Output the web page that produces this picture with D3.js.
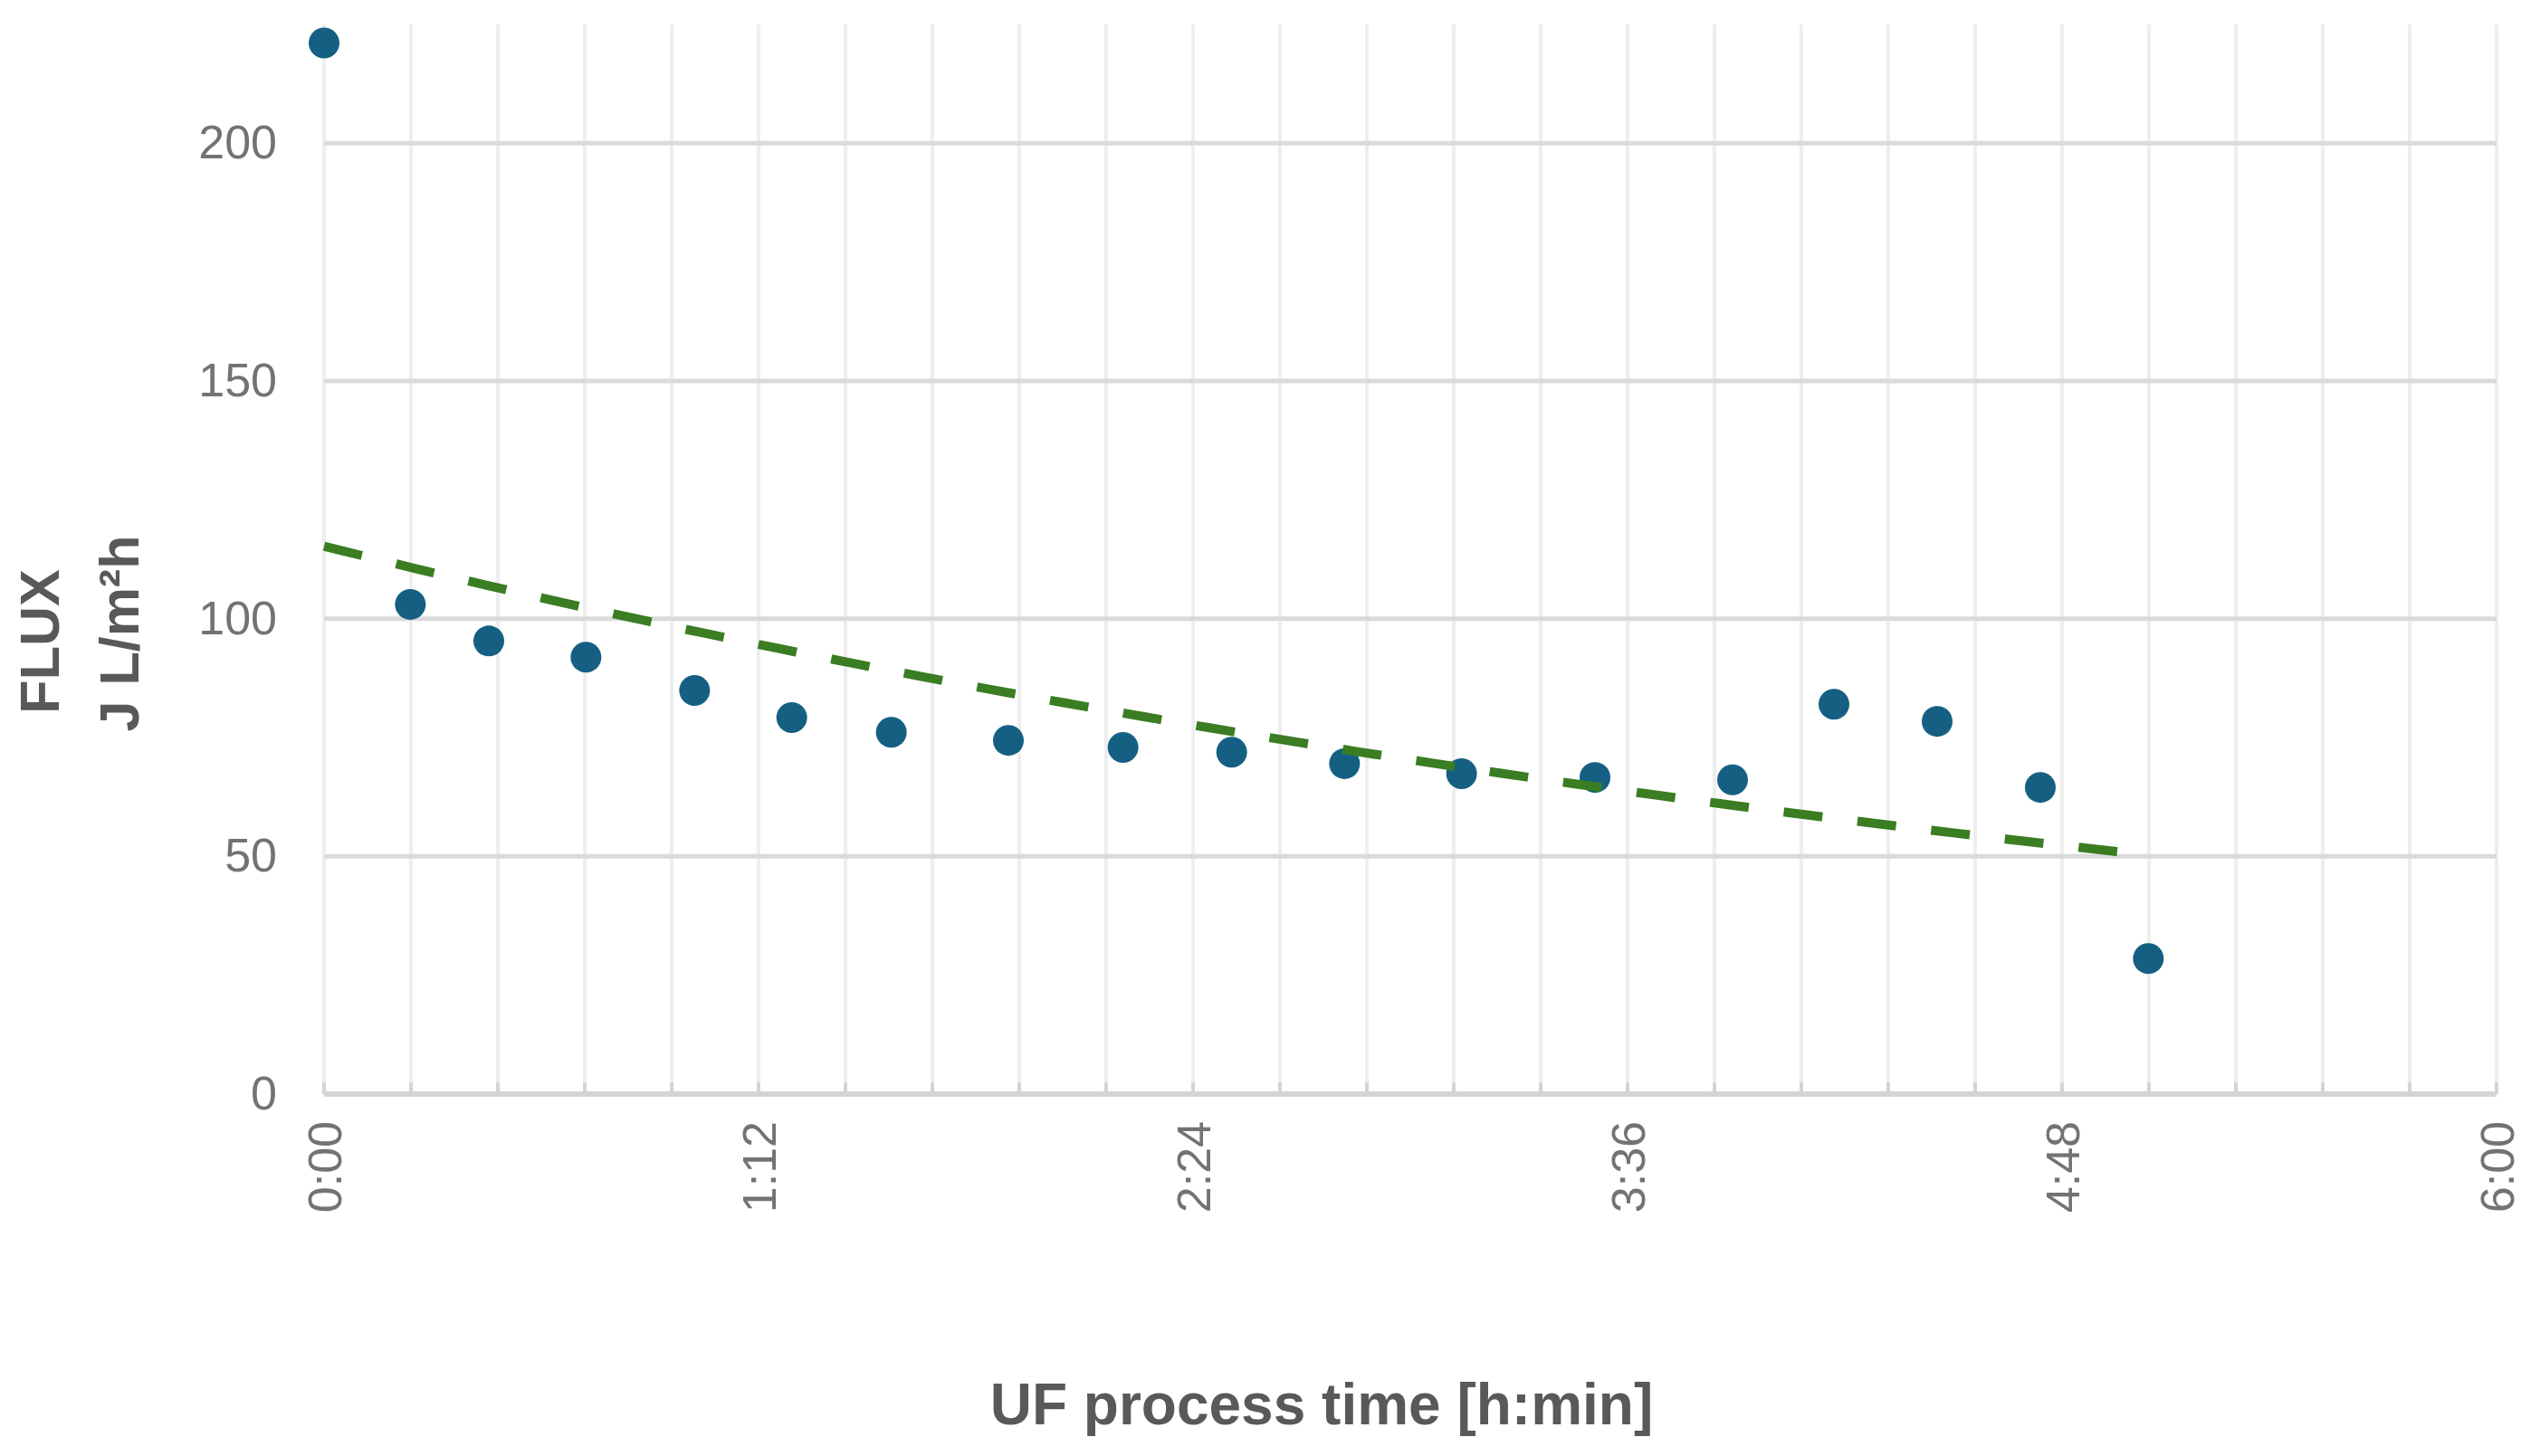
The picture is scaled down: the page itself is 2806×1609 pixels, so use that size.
<!DOCTYPE html>
<html>
<head>
<meta charset="utf-8">
<script src="https://cdn.jsdelivr.net/npm/d3@7"></script>
<style>
	html, body { margin: 0; padding: 0; background: #ffffff; }
	svg { display: block; font-family: "Liberation Sans", Arial, sans-serif; }
</style>
</head>
<body>
<svg id="chart"></svg>
<script>
// process time in minutes, flux in L/m²h
const times = [0, 14.3, 27.3, 43.4, 61.4, 77.5, 94.0, 113.4, 132.4, 150.4, 169.1, 188.5, 210.6, 233.4, 250.2, 267.3, 284.4, 302.3];
const flux = [221.1, 103.0, 95.3, 91.9, 84.9, 79.2, 76.1, 74.4, 72.9, 71.9, 69.5, 67.4, 66.6, 66.1, 82.0, 78.4, 64.5, 28.5];

const xTicks = [0, 72, 144, 216, 288, 360];
const yTicks = [0, 50, 100, 150, 200];
const xDomain = [0, 360];
const yDomain = [0, 225];

const xTitle = "UF process time [h:min]";
const yTitleLines = ["FLUX", "J L/m²h"];

const width = 2806;
const height = 1609;
const margin = { top: 27, right: 48, bottom: 400, left: 358 };

const svg = d3.select("#chart")
	.attr("width", width)
	.attr("height", height);

const x = d3.scaleLinear()
	.domain(xDomain)
	.range([margin.left, width - margin.right]);

const y = d3.scaleLinear()
	.domain(yDomain)
	.range([height - margin.bottom, margin.top]);

function hmm(m) {
	const h = Math.floor(m / 60);
	const mm = Math.round(m - h * 60);
	return `${h}:${String(mm).padStart(2, "0")}`;
}

// exponential trendline (least squares on ln y), as the spreadsheet does
function expFit(xs, ys) {
	const ln = ys.map((v) => Math.log(v));
	const mx = d3.mean(xs);
	const my = d3.mean(ln);
	const b = d3.sum(xs.map((t, i) => (t - mx) * (ln[ i ] - my))) /
		d3.sum(xs.map((t) => (t - mx) * (t - mx)));
	const a = Math.exp(my - b * mx);
	return (t) => a * Math.exp(b * t);
}

const trend = expFit(times, flux);
const tMax = d3.max(times);
const trendPoints = d3.range(0, tMax, 3).concat([tMax]).map((t) => [t, trend(t)]);

// minor gridlines every 14.4 min (0.01 day)
const minorTicks = d3.range(0, 26).map((i) => i * 14.4);

svg.append("g")
	.attr("class", "vgrid")
	.selectAll("line")
	.data(minorTicks)
	.enter()
	.append("line")
	.attr("x1", (d) => x(d))
	.attr("x2", (d) => x(d))
	.attr("y1", y(yDomain[1]))
	.attr("y2", y(0))
	.attr("stroke", "#eeeeee")
	.attr("stroke-width", 4);

svg.append("g")
	.attr("class", "hgrid")
	.selectAll("line")
	.data(yTicks.filter((d) => d > 0))
	.enter()
	.append("line")
	.attr("x1", x(xDomain[0]))
	.attr("x2", x(xDomain[1]))
	.attr("y1", (d) => y(d))
	.attr("y2", (d) => y(d))
	.attr("stroke", "#dadada")
	.attr("stroke-width", 5);

// y axis labels
const yAxis = svg.append("g")
	.attr("transform", `translate(${margin.left},0)`)
	.call(d3.axisLeft(y).tickValues(yTicks).tickSize(0).tickPadding(52));

yAxis.select(".domain").remove();
yAxis.selectAll("text")
	.attr("font-size", 52)
	.attr("font-family", "\"Liberation Sans\", Arial, sans-serif")
	.attr("fill", "#737373");

// x axis: line with small inside ticks at every gridline
const xAxisG = svg.append("g")
	.attr("transform", `translate(0,${y(0)})`);

xAxisG.append("line")
	.attr("x1", x(xDomain[0]))
	.attr("x2", x(xDomain[1]))
	.attr("stroke", "#d4d4d4")
	.attr("stroke-width", 6);

xAxisG.selectAll("line.tick")
	.data(minorTicks)
	.enter()
	.append("line")
	.attr("class", "tick")
	.attr("x1", (d) => x(d))
	.attr("x2", (d) => x(d))
	.attr("y1", -13)
	.attr("y2", 0)
	.attr("stroke", "#d4d4d4")
	.attr("stroke-width", 4);

const xAxis = svg.append("g")
	.attr("transform", `translate(0,${y(0)})`)
	.call(d3.axisBottom(x).tickValues(xTicks).tickFormat(hmm).tickSize(0));

xAxis.select(".domain").remove();
xAxis.selectAll("text")
	.attr("font-size", 52)
	.attr("font-family", "\"Liberation Sans\", Arial, sans-serif")
	.attr("fill", "#737373")
	.attr("text-anchor", "end")
	.attr("transform", "rotate(-90)")
	.attr("x", -30)
	.attr("y", 0)
	.attr("dy", "0.35em");

// data points
svg.append("g")
	.selectAll("circle.point")
	.data(times.map((t, i) => ({ t: t, v: flux[ i ] })))
	.enter()
	.append("circle")
	.attr("class", "point")
	.attr("cx", (d) => x(d.t))
	.attr("cy", (d) => y(d.v))
	.attr("r", 17)
	.attr("fill", "#156082");

// trendline
const trendLine = d3.line()
	.x((d) => x(d[ 0 ]))
	.y((d) => y(d[ 1 ]));

svg.append("path")
	.datum(trendPoints)
	.attr("d", trendLine)
	.attr("fill", "none")
	.attr("stroke", "#3a7d22")
	.attr("stroke-width", 10)
	.attr("stroke-dasharray", "43 39");

// axis titles
svg.append("text")
	.attr("x", 1460)
	.attr("y", 1574)
	.attr("text-anchor", "middle")
	.attr("font-size", 64)
	.attr("font-weight", "bold")
	.attr("fill", "#595959")
	.text(xTitle);

svg.append("text")
	.attr("transform", "translate(65,709) rotate(-90)")
	.attr("text-anchor", "middle")
	.attr("font-size", 61)
	.attr("font-weight", "bold")
	.attr("fill", "#595959")
	.text(yTitleLines[ 0 ]);

svg.append("text")
	.attr("transform", "translate(153,700) rotate(-90)")
	.attr("text-anchor", "middle")
	.attr("font-size", 61)
	.attr("font-weight", "bold")
	.attr("fill", "#595959")
	.text(yTitleLines[ 1 ]);
</script>
</body>
</html>
